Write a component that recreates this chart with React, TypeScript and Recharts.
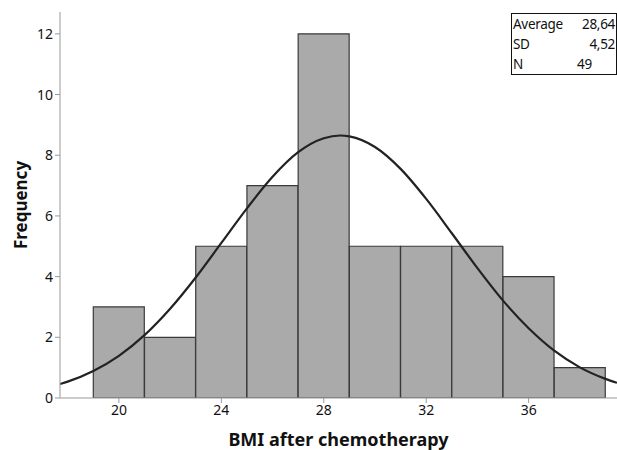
import React from "react";
import { ComposedChart, Bar, Line, XAxis, YAxis, Label } from "recharts";

const binCenters = [20, 22, 24, 26, 28, 30, 32, 34, 36, 38];
const frequencies = [3, 2, 5, 7, 12, 5, 5, 5, 4, 1];

const curveX = [17.7, 18, 19, 20, 21, 22, 23, 24, 25, 26, 27, 28, 28.64, 29, 30, 31, 32, 33, 34, 35, 36, 37, 38, 39, 39.45];
const curveY = [0.46, 0.54, 0.89, 1.39, 2.07, 2.94, 3.97, 5.11, 6.25, 7.29, 8.1, 8.56, 8.65, 8.62, 8.27, 7.55, 6.56, 5.43, 4.28, 3.21, 2.3, 1.56, 1.01, 0.63, 0.5];

const xTicks = [20, 24, 28, 32, 36];
const yTicks = [0, 2, 4, 6, 8, 10, 12];

const statLabels = ["Average", "SD", "N"];
const statValues = ["28,64", "4,52", "49"];
const statAlign: ("right" | "left")[] = ["right", "right", "left"];

const bins = binCenters.map((x, i) => ({ x, freq: frequencies[i] }));
const curve = curveX.map((x, i) => ({ x, y: curveY[i] }));

const X_DOMAIN: [number, number] = [17.7, 39.45];
const FONT = "'Noto Sans', 'Open Sans', sans-serif";

export default function App() {
  return (
    <div style={{ position: "fixed", left: 0, top: 0, width: 617, height: 450, background: "#fff", overflow: "hidden" }}>
      <ComposedChart
        width={617}
        height={450}
        data={bins}
        margin={{ top: 12, right: 0, left: 0, bottom: 0 }}
        barCategoryGap={0}
        barGap={0}
      >
        <XAxis
          xAxisId="main"
          dataKey="x"
          type="number"
          domain={X_DOMAIN}
          allowDataOverflow
          ticks={xTicks}
          height={52}
          tickSize={5}
          stroke="#999"
          tick={{ fill: "#111", fontSize: 14, fontFamily: FONT }}
        >
          <Label
            value="BMI after chemotherapy"
            position="insideTop"
            offset={35}
            style={{ fill: "#111", fontSize: 18, fontWeight: 700, fontFamily: FONT }}
          />
        </XAxis>
        <XAxis
          xAxisId="bar"
          dataKey="x"
          type="number"
          orientation="top"
          domain={X_DOMAIN}
          allowDataOverflow
          height={0}
          tick={false}
          tickLine={false}
          stroke="#aaa"
        />
        <YAxis
          type="number"
          domain={[0, 12.72]}
          allowDataOverflow
          ticks={yTicks}
          width={60}
          tickSize={5}
          stroke="#999"
          tick={{ fill: "#111", fontSize: 14, fontFamily: FONT }}
        >
          <Label
            value="Frequency"
            angle={-90}
            position="insideLeft"
            offset={21}
            style={{ fill: "#111", fontSize: 17, fontWeight: 700, fontFamily: FONT, textAnchor: "middle" }}
          />
        </YAxis>
        <Bar
          xAxisId="bar"
          dataKey="freq"
          fill="#aaaaaa"
          stroke="#3a3a3a"
          strokeWidth={1.2}
          isAnimationActive={false}
        />
        <Line
          xAxisId="main"
          data={curve}
          dataKey="y"
          type="monotone"
          stroke="#222"
          strokeWidth={2.2}
          dot={false}
          isAnimationActive={false}
        />
      </ComposedChart>
      <div
        style={{
          position: "absolute",
          left: 511,
          top: 13,
          width: 106,
          border: "1.5px solid #111",
          fontFamily: FONT,
          fontSize: 13.5,
          letterSpacing: -0.3,
          lineHeight: "20px",
          color: "#111",
          padding: "0 1px",
          boxSizing: "border-box",
          background: "#fff",
        }}
      >
        {statLabels.map((l, i) => (
          <div key={l} style={{ display: "flex" }}>
            <span style={{ width: 64 }}>{l}</span>
            <span style={{ width: 38, textAlign: statAlign[i] }}>{statValues[i]}</span>
          </div>
        ))}
      </div>
    </div>
  );
}
